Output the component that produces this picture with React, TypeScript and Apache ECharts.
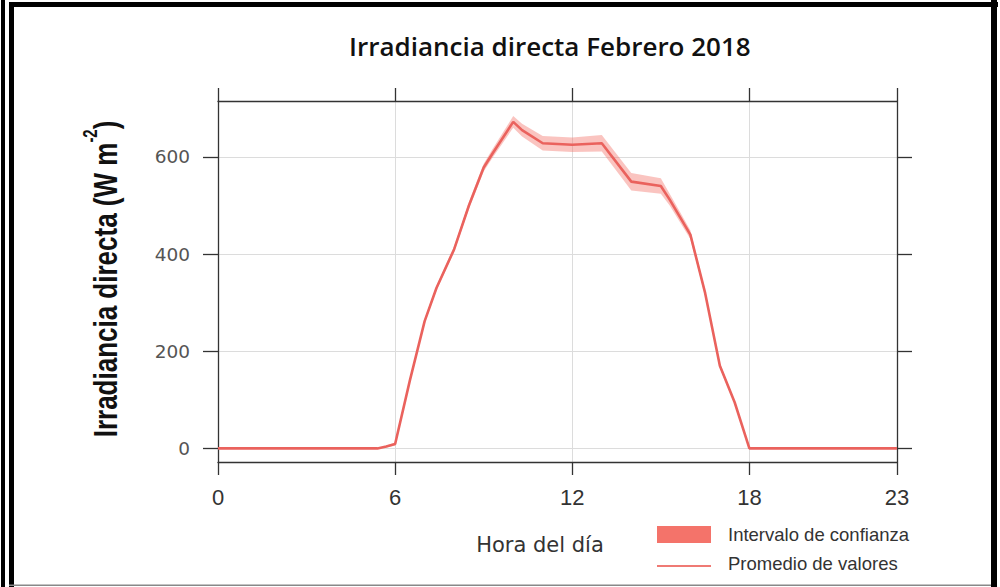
import React, { useEffect, useRef } from "react";
import * as echarts from "echarts";

const titleText = "Irradiancia directa Febrero 2018";
const xAxisName = "Hora del día";
const bandName = "Intervalo de confianza";
const lineName = "Promedio de valores";
const xTicks = [0, 6, 12, 18, 23];
const yTicks = [0, 200, 400, 600];

const hours = [0, 1, 2, 3, 4, 5, 5.4, 5.7, 6, 6.5, 7, 7.4, 8, 8.5, 9, 9.3, 10, 10.3, 11, 12, 13, 14, 15, 15.3, 16, 16.5, 17, 17.5, 18, 19, 20, 21, 22, 23];
const meanValues = [0, 0, 0, 0, 0, 0, 0, 4, 9, 140, 262, 330, 410, 500, 578, 607, 672, 655, 628, 625, 628, 549, 540, 512, 440, 320, 170, 95, 0, 0, 0, 0, 0, 0];
const ciHalfWidth = [0, 0, 0, 0, 0, 0, 0, 2, 3, 4, 5, 5, 6, 7, 8, 9, 12, 13, 15, 15, 17, 18, 16, 12, 9, 6, 5, 3, 0, 0, 0, 0, 0, 0];

export default function App() {
  const ref = useRef<HTMLDivElement>(null);
  useEffect(() => {
    if (!ref.current) return;
    const chart = echarts.init(ref.current, undefined, { renderer: "svg" });
    const bandData = hours.map((h, i) => [h, meanValues[i] - ciHalfWidth[i], meanValues[i] + ciHalfWidth[i]]);
    const mean = hours.map((h, i) => [h, meanValues[i]]);
    const axisColor = "#333";
    const bandColor = "#F4736A";
    const lineColor = "#EA625D";
    chart.setOption({
      animation: false,
      backgroundColor: "#fff",
      title: {
        text: titleText,
        left: 349,
        top: 33,
        padding: 0,
        textStyle: { fontFamily: "'Open Sans'", fontWeight: 600, fontSize: 26, color: "#111" },
      },
      grid: { left: 218, right: 103, top: 101, bottom: 125 },
      xAxis: [
        {
          type: "value",
          position: "bottom",
          min: 0,
          max: 23,
          name: xAxisName,
          nameLocation: "middle",
          nameGap: 72,
          nameTextStyle: { fontFamily: "'DejaVu Sans'", fontSize: 21, color: "#333", padding: [0, 35, 0, 0] },
          axisLine: { show: true, onZero: false, lineStyle: { color: axisColor, width: 1.3 } },
          axisTick: { show: true, length: 13, customValues: xTicks, lineStyle: { color: axisColor, width: 1.3 } },
          axisLabel: {
            customValues: xTicks,
            margin: 24,
            fontFamily: "'Liberation Sans Narrow', 'Liberation Sans', Arial",
            fontSize: 22,
            color: "#333",
          },
          splitLine: { show: true, lineStyle: { color: "#dcdcdc", width: 1 } },
        },
        {
          type: "value",
          position: "top",
          min: 0,
          max: 23,
          axisLine: { show: true, onZero: false, lineStyle: { color: axisColor, width: 1.3 } },
          axisTick: { show: true, length: 13, customValues: xTicks, lineStyle: { color: axisColor, width: 1.3 } },
          axisLabel: { show: false },
          splitLine: { show: false },
        },
      ],
      yAxis: [
        {
          type: "value",
          position: "left",
          min: -28,
          max: 715,
          axisLine: { show: true, onZero: false, lineStyle: { color: axisColor, width: 1.3 } },
          axisTick: { show: true, length: 15, customValues: yTicks, lineStyle: { color: axisColor, width: 1.3 } },
          axisLabel: {
            customValues: yTicks,
            margin: 28,
            fontFamily: "'DejaVu Sans'",
            fontSize: 18.5,
            color: "#555",
          },
          splitLine: { show: true, lineStyle: { color: "#dcdcdc", width: 1 } },
        },
        {
          type: "value",
          position: "right",
          min: -28,
          max: 715,
          axisLine: { show: true, onZero: false, lineStyle: { color: axisColor, width: 1.3 } },
          axisTick: { show: true, length: 15, customValues: yTicks, lineStyle: { color: axisColor, width: 1.3 } },
          axisLabel: { show: false },
          splitLine: { show: false },
        },
      ],
      series: [
        {
          name: bandName,
          type: "custom",
          data: bandData,
          encode: { x: 0, y: [1, 2] },
          silent: true,
          z: 2,
          renderItem: (params: any, api: any) => {
            if (params.dataIndex !== 0) return null;
            const upper = bandData.map((d) => api.coord([d[0], d[2]]));
            const lowerPts = bandData.map((d) => api.coord([d[0], d[1]])).reverse();
            return {
              type: "polygon",
              shape: { points: upper.concat(lowerPts) },
              style: { fill: "rgba(244,115,106,0.42)", stroke: "none" },
            };
          },
        },
        {
          name: lineName,
          type: "line",
          data: mean,
          symbol: "none",
          itemStyle: { color: lineColor },
          lineStyle: { color: lineColor, width: 2.6 },
          z: 3,
        },
      ],
      graphic: [
        {
          type: "text",
          x: 101,
          y: 279,
          rotation: Math.PI / 2,
          scaleY: 1.3,
          style: {
            text: "{a|Irradiancia directa (W m}{s|-2}{a|)}",
            align: "center",
            verticalAlign: "middle",
            rich: {
              a: { fontFamily: "'Liberation Sans', Arial", fontWeight: "bold", fontSize: 26, lineHeight: 32, fill: "#111", verticalAlign: "bottom" },
              s: { fontFamily: "'Liberation Sans', Arial", fontWeight: "bold", fontSize: 15, lineHeight: 32, fill: "#111", verticalAlign: "top" },
            },
          },
        },
        { type: "rect", shape: { x: 657, y: 526, width: 54, height: 17 }, style: { fill: bandColor }, silent: true },
        { type: "line", shape: { x1: 657, y1: 566, x2: 711, y2: 566 }, style: { stroke: "#EF7A74", lineWidth: 2 }, silent: true },
        {
          type: "text",
          x: 728,
          y: 534.5,
          style: { text: bandName, fontFamily: "'Liberation Sans', Arial", fontSize: 18.5, fill: "#333", verticalAlign: "middle" },
        },
        {
          type: "text",
          x: 728,
          y: 563.5,
          style: { text: lineName, fontFamily: "'Liberation Sans', Arial", fontSize: 18.5, fill: "#333", verticalAlign: "middle" },
        },
        { type: "rect", shape: { x: 1, y: 0, width: 4, height: 587 }, style: { fill: "#000" }, silent: true },
        { type: "rect", shape: { x: 9, y: 3, width: 5, height: 584 }, style: { fill: "#000" }, silent: true },
        { type: "rect", shape: { x: 9, y: 2, width: 989, height: 5 }, style: { fill: "#000" }, silent: true },
        { type: "rect", shape: { x: 991, y: 0, width: 6, height: 587 }, style: { fill: "#000" }, silent: true },
        { type: "rect", shape: { x: 9, y: 584.5, width: 982, height: 1.5 }, style: { fill: "#888" }, silent: true },
      ],
    });
    return () => chart.dispose();
  }, []);
  return (
    <div
      ref={ref}
      style={{ position: "absolute", left: 0, top: 0, width: 1000, height: 587, background: "#fff" }}
    />
  );
}
